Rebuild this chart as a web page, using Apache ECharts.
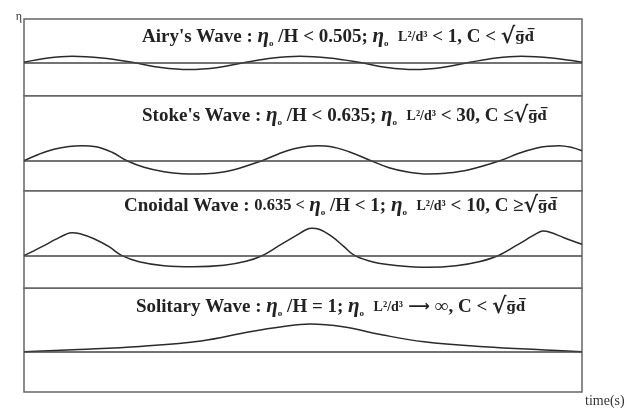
<!DOCTYPE html>
<html><head><meta charset="utf-8">
<script src="https://cdn.jsdelivr.net/npm/echarts@6/dist/echarts.min.js"></script>
<style>html,body{margin:0;padding:0;background:#fff}#c{width:632px;height:408px}</style>
</head><body><div id="c"></div>
<script>
// ---- data (time in arbitrary units, eta relative to still-water line) ----
const airyTime = [0, 24, 48, 78, 108, 137, 165, 194, 222, 249, 276, 305, 335, 363, 391, 418, 446, 472, 497, 528, 558];
const airyEta  = [0, 4.3, 6, 4.3, 0, -5.2, -7.3, -5.2, 0, 4.3, 6, 4.3, 0, -5.2, -7.3, -5.2, 0, 4.3, 6, 4.3, 0];

const stokesTime = [0, 15, 30, 45, 58, 72, 88, 103, 120, 140, 158, 173, 190, 210, 238, 255, 270, 284, 294, 306, 325, 347, 365, 385, 404, 422, 445, 476, 495, 512, 525, 535, 547, 558];
const stokesEta  = [0, 6.5, 11.5, 14.3, 15, 14, 8.5, 0, -6.5, -11, -13, -13.3, -12.5, -9, 0, 7, 12, 14.5, 15, 14.3, 9, 0, -7, -11.5, -13.3, -12.5, -9, 0, 7.5, 12.5, 14.5, 15, 13.5, 10];

const cnoidalTime = [0, 16, 32, 42, 48, 56, 70, 85, 98, 115, 140, 169, 200, 222, 238, 255, 272, 282, 288, 295, 308, 320, 331, 350, 375, 404, 432, 455, 474, 492, 508, 515, 519, 526, 540, 558];
const cnoidalEta  = [0, 8, 16.5, 21.5, 23, 22, 17, 9, 0, -6, -10, -11, -9.5, -5.5, 0, 10, 20, 26, 27.4, 26.5, 19, 9, 0, -6.5, -10, -11.6, -10, -6, 0, 10, 19.5, 23.5, 24.7, 23.5, 18, 11.4];

const solitaryTime = [0, 55, 116, 177, 226, 258, 286, 319, 359, 400, 460, 521, 558];
const solitaryEta  = [0, 2.2, 5.3, 10.7, 20, 25, 27.7, 25, 16.7, 10, 5, 1.7, 0];

const panelTitles = [
  "{t|Airy's Wave : }{e|η}{s|o}{t| /H < 0.505; }{e|η}{s|o}{t|  }{m|L²/d³}{t| < 1, C < }{r|√}{o|g\u0305d\u0305}",
  "{t|Stoke's Wave : }{e|η}{s|o}{t| /H < 0.635; }{e|η}{s|o}{t|  }{m|L²/d³}{t| < 30, C ≤}{r|√}{o|g\u0305d\u0305}",
  "{t|Cnoidal Wave : }{m2|0.635 < }{e|η}{s|o}{t| /H < 1; }{e|η}{s|o}{t|  }{m|L²/d³}{t| < 10, C ≥}{r|√}{o|g\u0305d\u0305}",
  "{t|Solitary Wave : }{e|η}{s|o}{t| /H = 1; }{e|η}{s|o}{t|  }{m|L²/d³}{a| ⟶ }{t|∞, C < }{r|√}{o|g\u0305d\u0305}"
];
const xAxisName = 'time(s)';
const yAxisName = 'η';

// ---- layout ----
const panels = [
  {top: 19,    height: 76.7,  min: -33.4, max: 43.3, titleLeft: 142, titleTop: 26},
  {top: 95.7,  height: 95,    min: -30,   max: 65,   titleLeft: 142, titleTop: 105},
  {top: 190.7, height: 97.6,  min: -32.6, max: 65,   titleLeft: 124, titleTop: 195},
  {top: 288.3, height: 103.7, min: -40.3, max: 63.4, titleLeft: 136, titleTop: 296}
];
const seriesData = [
  [airyTime, airyEta], [stokesTime, stokesEta], [cnoidalTime, cnoidalEta], [solitaryTime, solitaryEta]
];
const LH = 22;
const richStyles = {
  t:  {fontFamily: 'Liberation Serif', fontSize: 19, fontWeight: 'bold', color: '#222', lineHeight: LH},
  m2: {fontFamily: 'Liberation Serif', fontSize: 16.5, fontWeight: 'bold', color: '#222', lineHeight: LH},
  e:  {fontFamily: 'Liberation Serif', fontSize: 21, fontStyle: 'italic', fontWeight: 'bold', color: '#222', lineHeight: LH},
  s:  {fontFamily: 'Liberation Serif', fontSize: 9, color: '#222', verticalAlign: 'bottom', lineHeight: LH},
  m:  {fontFamily: 'Liberation Serif', fontSize: 14, fontWeight: 'bold', color: '#222', lineHeight: LH},
  a:  {fontFamily: 'DejaVu Sans', fontSize: 15, color: '#222', lineHeight: LH},
  r:  {fontFamily: 'DejaVu Serif', fontSize: 22, fontWeight: 'bold', color: '#222', lineHeight: LH},
  o:  {fontFamily: 'DejaVu Serif', fontSize: 13.5, color: '#222', lineHeight: LH}
};

const FRAME_LEFT = 24, FRAME_RIGHT = 50;
const option = {
  animation: false,
  backgroundColor: '#fff',
  title: panels.map((p, i) => ({
    text: panelTitles[i], left: p.titleLeft, top: p.titleTop, padding: 0,
    textStyle: {rich: richStyles}
  })),
  grid: panels.map(p => ({
    left: FRAME_LEFT, right: FRAME_RIGHT, top: p.top, height: p.height,
    show: true, borderColor: '#666', borderWidth: 1.5, backgroundColor: 'transparent'
  })),
  xAxis: panels.map((p, i) => ({
    type: 'value', gridIndex: i, min: 0, max: 558, position: 'bottom',
    show: i === panels.length - 1,
    axisLine: {show: false, onZero: false}, axisTick: {show: false}, axisLabel: {show: false}, splitLine: {show: false},
    name: i === panels.length - 1 ? xAxisName : '',
    nameLocation: 'end', nameGap: 3,
    nameTextStyle: {fontFamily: 'Liberation Serif', fontSize: 14, color: '#333', verticalAlign: 'top', padding: [2, 0, 0, 0]}
  })),
  yAxis: panels.map((p, i) => ({
    type: 'value', gridIndex: i, min: p.min, max: p.max,
    show: i === 0,
    axisLine: {show: false, onZero: false}, axisTick: {show: false}, axisLabel: {show: false}, splitLine: {show: false},
    name: i === 0 ? yAxisName : '',
    nameLocation: 'end', nameGap: 2,
    nameTextStyle: {fontFamily: 'Liberation Serif', fontSize: 12, color: '#333', align: 'right', verticalAlign: 'middle', padding: [0, 2, 0, 0]}
  })),
  series: seriesData.map((d, i) => ({
    type: 'line', xAxisIndex: i, yAxisIndex: i,
    data: d[0].map((t, k) => [t, d[1][k]]),
    smooth: 0.4, showSymbol: false, silent: true,
    lineStyle: {color: '#2a2a2a', width: 1.5},
    markLine: {
      silent: true, symbol: 'none', label: {show: false},
      lineStyle: {color: '#444', width: 1.5, type: 'solid'},
      data: [{yAxis: 0}]
    }
  }))
};
const chart = echarts.init(document.getElementById('c'), null, {renderer: 'canvas'});
chart.setOption(option);
</script>
</body></html>
